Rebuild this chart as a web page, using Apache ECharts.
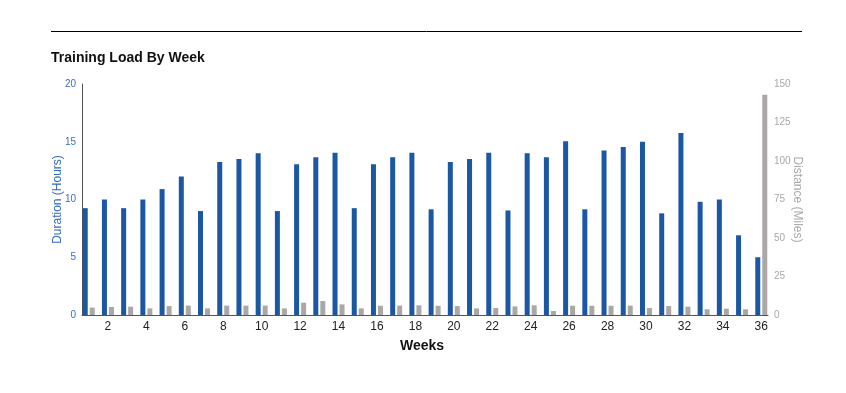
<!DOCTYPE html>
<html>
<head>
<meta charset="utf-8">
<script src="https://cdn.jsdelivr.net/npm/echarts@6/dist/echarts.min.js"></script>
<style>
html,body{margin:0;padding:0;background:#fff;}
#chart{width:846px;height:393px;}
</style>
</head>
<body>
<div id="chart"></div>
<script>
var weeks = [1,2,3,4,5,6,7,8,9,10,11,12,13,14,15,16,17,18,19,20,21,22,23,24,25,26,27,28,29,30,31,32,33,34,35,36];
var durationHours = [9.25,10.0,9.25,10.0,10.9,12.0,9.0,13.25,13.5,14.0,9.0,13.05,13.65,14.05,9.25,13.05,13.65,14.05,9.15,13.25,13.5,14.05,9.05,14.0,13.65,15.05,9.15,14.25,14.55,15.0,8.8,15.75,9.8,10.0,6.9,5.0];
var distanceMiles = [4.8,5.2,5.4,4.3,5.8,6.1,4.3,6.1,6.1,6.1,4.3,8.0,9.1,6.9,4.3,6.0,6.1,6.3,6.0,5.8,4.3,4.5,5.6,6.3,2.6,6.0,6.0,6.0,6.1,4.5,5.8,5.4,3.7,4.1,3.7,143];
var weekTickLabels = [2,4,6,8,10,12,14,16,18,20,22,24,26,28,30,32,34,36];

var FONT = "'Liberation Sans', Arial, Helvetica, sans-serif";
var chart = echarts.init(document.getElementById('chart'), null, {renderer: 'canvas'});

function pairs(vals) {
  return weeks.map(function (w, i) { return [w, vals[i]]; });
}

chart.setOption({
  animation: false,
  backgroundColor: '#ffffff',
  textStyle: {fontFamily: FONT},
  title: {
    text: 'Training Load By Week',
    left: 46,
    top: 46,
    textStyle: {fontFamily: FONT, fontSize: 14, fontWeight: 'bold', color: '#111'}
  },
  graphic: [{
    type: 'line',
    shape: {x1: 51, y1: 31.5, x2: 802, y2: 31.5},
    style: {stroke: '#000', lineWidth: 1}
  }],
  grid: {left: 82, top: 84, width: 686, height: 231, containLabel: false},
  xAxis: {
    type: 'value',
    min: 0.65,
    max: 36.35,
    name: 'Weeks',
    nameLocation: 'middle',
    nameGap: 24,
    nameTextStyle: {fontFamily: FONT, fontSize: 14, fontWeight: 'bold', color: '#111', padding: [0, 6, 0, 0]},
    axisLine: {show: true, lineStyle: {color: '#555', width: 1}},
    axisTick: {show: false},
    splitLine: {show: false},
    axisLabel: {
      customValues: weekTickLabels,
      fontFamily: FONT, fontSize: 12, color: '#222', margin: 6
    }
  },
  yAxis: [{
    type: 'value',
    min: 0, max: 20, interval: 5,
    name: 'Duration (Hours)',
    nameLocation: 'middle',
    nameGap: 18,
    nameMoveOverlap: false,
    nameTextStyle: {fontFamily: FONT, fontSize: 12, color: '#2f68bd'},
    axisLine: {show: true, lineStyle: {color: '#555', width: 1}},
    axisTick: {show: false},
    splitLine: {show: false},
    axisLabel: {fontFamily: FONT, fontSize: 10, color: '#3a6fc2', margin: 6}
  }, {
    type: 'value',
    min: 0, max: 150, interval: 25,
    name: 'Distance (Miles)',
    nameLocation: 'middle',
    nameRotate: -90,
    nameGap: 23,
    nameMoveOverlap: false,
    nameTextStyle: {fontFamily: FONT, fontSize: 12, color: '#aaa8a8'},
    axisLine: {show: false},
    axisTick: {show: false},
    splitLine: {show: false},
    axisLabel: {fontFamily: FONT, fontSize: 10, color: '#aaa8a8', margin: 6}
  }],
  series: [{
    name: 'Duration',
    type: 'bar',
    yAxisIndex: 0,
    barWidth: 5,
    barGap: '40%',
    itemStyle: {color: '#1c57a3'},
    data: pairs(durationHours)
  }, {
    name: 'Distance',
    type: 'bar',
    yAxisIndex: 1,
    barWidth: 5,
    barGap: '40%',
    itemStyle: {color: '#aba7a7'},
    data: pairs(distanceMiles)
  }]
});
</script>
</body>
</html>
